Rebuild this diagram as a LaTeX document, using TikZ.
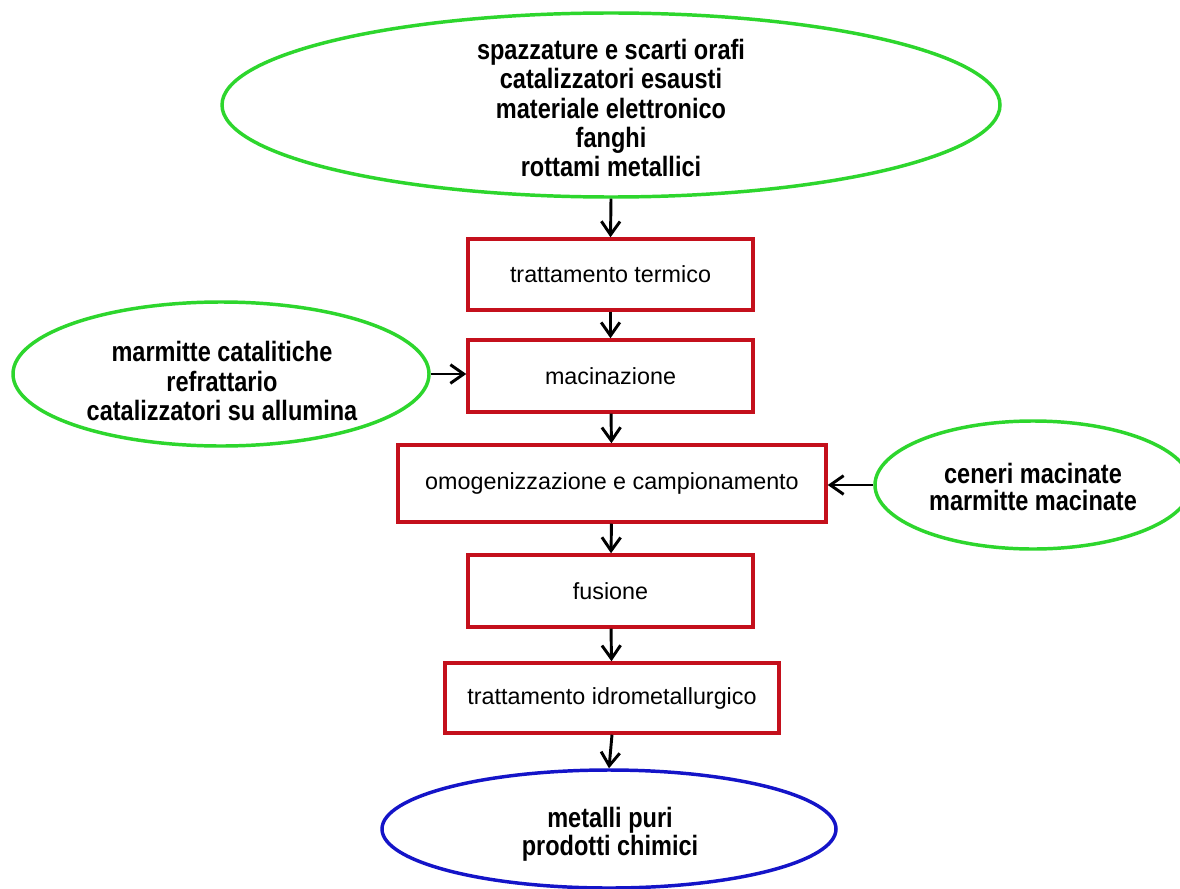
\documentclass[tikz,border=0pt]{standalone}
\usepackage{fontspec}
\setmainfont{Liberation Sans}
\newfontfamily\ellfont{Liberation Sans}[FakeStretch=0.84]
\usetikzlibrary{shapes.geometric,arrows.meta}

\definecolor{ellgreen}{RGB}{45,214,45}
\definecolor{boxred}{RGB}{196,16,28}
\definecolor{ellblue}{RGB}{20,20,200}

\begin{document}
\begin{tikzpicture}[x=0.75pt,y=-0.75pt,
  stepbox/.style={draw=boxred,line width=2.6pt,rectangle,inner sep=0pt,
    font=\fontsize{17.5}{21}\selectfont},
  oval/.style={ellipse,inner sep=0pt,line width=2.6pt},
  ovaltext/.style={align=center,inner sep=0pt,
    font=\ellfont\bfseries\fontsize{21}{22}\selectfont},
  flow/.style={line width=2.2pt,-{Straight Barb[length=10pt,width=14pt,line width=2.2pt]}}
]
\path[use as bounding box,fill=white] (0,0) rectangle (1180,888);
\clip (0,0) rectangle (1180,888);

% input materials
\node[oval,draw=ellgreen,minimum width=583.5pt,minimum height=138pt] (top) at (611,105) {};
\node[ovaltext] (toptext) at (611,108) {spazzature e scarti orafi\\catalizzatori esausti\\materiale elettronico\\fanghi\\rottami metallici};

\node[oval,draw=ellgreen,minimum width=312pt,minimum height=108pt] (left) at (221,374) {};
\node[ovaltext] (lefttext) at (222,381) {marmitte catalitiche\\refrattario\\catalizzatori su allumina};

\node[oval,draw=ellgreen,minimum width=237pt,minimum height=96pt] (right) at (1033,485) {};
\node[ovaltext,font=\ellfont\bfseries\fontsize{21}{20.5}\selectfont] (righttext) at (1033,487) {ceneri macinate\\marmitte macinate};

% process steps
\node[stepbox,minimum width=213.75pt,minimum height=53.25pt] (b1) at (610.5,274.5) {trattamento termico};
\node[stepbox,minimum width=213.75pt,minimum height=54pt] (b2) at (610.5,376) {macinazione};
\node[stepbox,minimum width=321pt,minimum height=57.75pt] (b3) at (612,483.5) {omogenizzazione e campionamento};
\node[stepbox,minimum width=213.75pt,minimum height=54pt] (b4) at (610.5,591) {fusione};
\node[stepbox,minimum width=250.5pt,minimum height=52.5pt] (b5) at (612,698) {trattamento idrometallurgico};

% products
\node[oval,draw=ellblue,minimum width=340.5pt,minimum height=88.5pt] (bot) at (609,829) {};
\node[ovaltext,font=\ellfont\bfseries\fontsize{21}{21}\selectfont] (bottext) at (610,834) {metalli puri\\prodotti chimici};

% flow
\draw[flow] (top.south) -- (b1.north);
\draw[flow] (b1) -- (b2);
\draw[flow] (b2) -- (b3);
\draw[flow] (b3) -- (b4);
\draw[flow] (b4) -- (b5);
\draw[flow] (b5.south) -- (bot.north);
\draw[flow] (left.east) -- (left.east -| b2.west);
\draw[flow] (right.west) -- (right.west -| b3.east);
\end{tikzpicture}
\end{document}
